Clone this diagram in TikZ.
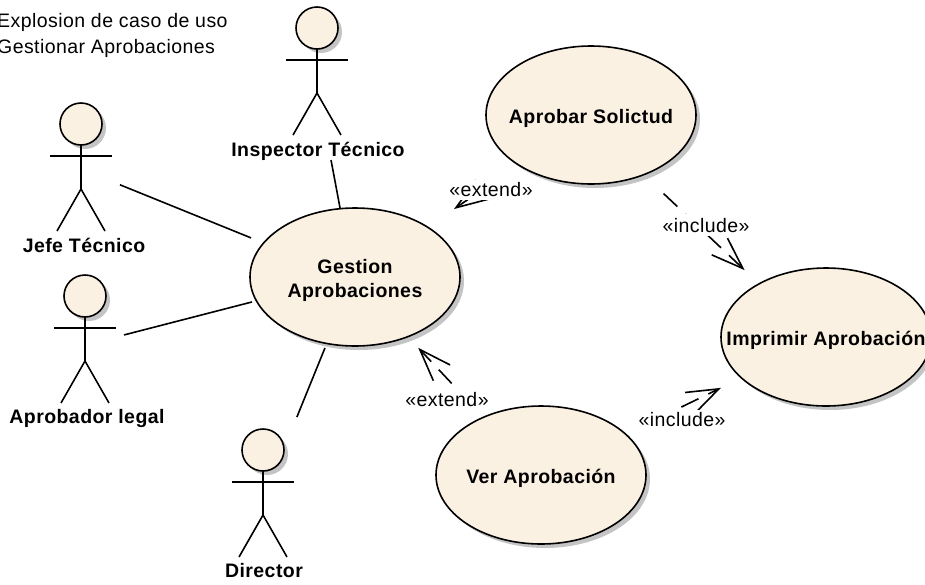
\documentclass[tikz,border=0pt]{standalone}
\usepackage{fontspec}
\setmainfont{Liberation Sans}
\newfontfamily\umlreg[LetterSpace=2.2]{Liberation Sans}
\newfontfamily\umlbold[LetterSpace=2.2]{Liberation Sans Bold}
\usetikzlibrary{shapes.geometric,shadows,arrows.meta}
\definecolor{ucfill}{RGB}{251,241,227}
\definecolor{shade}{RGB}{196,196,196}
\tikzset{
  softshadow/.style={general shadow={shadow xshift=4pt,shadow yshift=-4pt,fill=shade}},
  usecase/.style={shape=ellipse,draw=black,line width=1.6pt,fill=ucfill,softshadow,inner sep=0pt,outer sep=0pt,
    minimum width=210pt,minimum height=138pt,font=\umlbold\fontsize{19.5}{24}\selectfont},
  headc/.style={shape=circle,draw=black,line width=1.6pt,fill=ucfill,softshadow,inner sep=0pt,outer sep=0pt,minimum size=42pt},
  actorbox/.style={shape=rectangle,inner sep=0pt,outer sep=0pt,minimum width=62pt,minimum height=128pt},
  stick/.style={line width=1.6pt,line join=miter},
  actorname/.style={font=\umlbold\fontsize{19.5}{24}\selectfont,inner sep=0pt,anchor=base},
  assoc/.style={line width=1.6pt},
  dep/.style={line width=1.6pt,dash pattern=on 19pt off 11pt,-{Straight Barb[length=32pt,width=23pt]}},
  stereo/.style={font=\umlreg\fontsize{19.5}{24}\selectfont,fill=white,inner sep=0pt,text height=16pt,text depth=4pt},
  titletext/.style={font=\umlreg\fontsize{19.5}{24}\selectfont,inner sep=0pt,anchor=base west}
}
\newcommand{\uctext}[1]{\makebox[0pt]{\raisebox{-8.5pt}[0pt][0pt]{#1}}}
\newcommand{\umlactor}[6]{%
  \begin{scope}[shift={(#2,#3)}]
    \node[actorbox] (#1) at (0,43) {};
    \node[headc] (#1-head) at (0,0) {};
    \draw[stick] (-31,32) -- (31,32);
    \draw[stick] (0,21) -- (0,65);
    \draw[stick] (-24,107) -- (0,65) -- (24,107);
  \end{scope}
  \node[actorname] (#1-name) at (#5,#6) {#4};
}
\begin{document}
\begin{tikzpicture}[x=1pt,y=-1pt]
\useasboundingbox (0,0) rectangle (925,584);
\node[titletext] (title1) at (-3,27) {Explosion de caso de uso};
\node[titletext] (title2) at (-3,53) {Gestionar Aprobaciones};

\umlactor{jefe}{81}{124}{Jefe Técnico}{84}{252}
\umlactor{legal}{85}{296}{Aprobador legal}{87}{423}
\umlactor{inspector}{317}{28}{Inspector Técnico}{318}{156}
\umlactor{director}{263}{450}{Director}{264}{577}

\node[usecase] (gestion) at (355,277) {\uctext{\begin{tabular}{@{}c@{}}Gestion\\Aprobaciones\end{tabular}}};
\node[usecase] (aprobar) at (591,115) {\uctext{Aprobar Solictud}};
\node[usecase] (imprimir) at (826,337) {\uctext{Imprimir Aprobación}};
\node[usecase] (ver) at (541,475) {\uctext{Ver Aprobación}};

\draw[assoc,shorten <=42.1pt,shorten >=112.2pt] ([shift={(0,2)}]jefe.center) -- ([shift={(0,3)}]gestion.center);
\draw[assoc,shorten <=40.3pt,shorten >=106.4pt] ([shift={(0,6)}]legal.center) -- ([shift={(0,-1.6)}]gestion.center);
\draw[assoc,shorten <=90.6pt,shorten >=70.2pt] ([shift={(-2.7,0)}]inspector.center) -- ([shift={(-2,0)}]gestion.center);
\draw[assoc,shorten <=82pt,shorten >=76.6pt] ([shift={(3,0)}]director.center) -- ([shift={(-1.2,0)}]gestion.center);

\draw[dep,shorten <=117.2pt,shorten >=120.1pt] (aprobar.center) -- (gestion.center);
\draw[dep,shorten <=100.4pt,shorten >=92.3pt] ([shift={(0,3.5)}]ver.center) -- ([shift={(0,3.5)}]gestion.center);
\draw[dep,shorten <=99.8pt,shorten >=112pt] ([shift={(0,10)}]aprobar.center) -- ([shift={(0,10)}]imprimir.center);
\draw[dep,shorten <=125.9pt,shorten >=116.7pt] (ver.center) -- (imprimir.center);

\node[stereo] (ext1) at (491,190) {«extend»};
\node[stereo] (ext2) at (447,400) {«extend»};
\node[stereo,text height=18pt] (inc1) at (706,225) {«include»};
\node[stereo] (inc2) at (682,420) {«include»};
\end{tikzpicture}
\end{document}
